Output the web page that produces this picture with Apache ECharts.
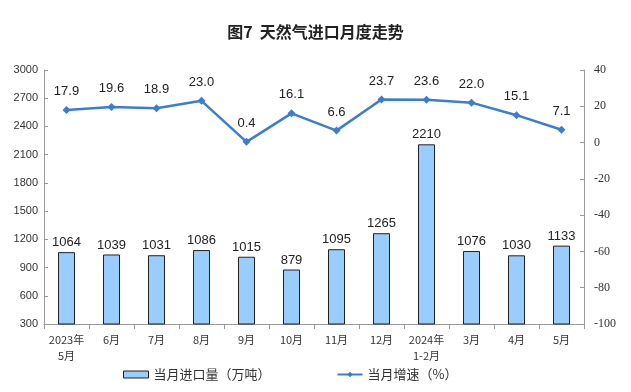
<!DOCTYPE html>
<html><head><meta charset="utf-8">
<script src="https://cdn.jsdelivr.net/npm/echarts@6/dist/echarts.min.js"></script>
<style>html,body{margin:0;padding:0;background:#fff}#c{width:631px;height:392px}</style>
</head><body><div id="c"></div>
<script>
const categories = ['2023年\n5月','6月','7月','8月','9月','10月','11月','12月','2024年\n1-2月','3月','4月','5月'];
const importVolume = [1064,1039,1031,1086,1015,879,1095,1265,2210,1076,1030,1133];
const growthRate = [17.9,19.6,18.9,23.0,0.4,16.1,6.6,23.7,23.6,22.0,15.1,7.1];
const chart = echarts.init(document.getElementById('c'));
const font = '"Noto Sans CJK SC", sans-serif';
chart.setOption({
  animation:false,
  title:{text:'图7  天然气进口月度走势',left:'center',top:19,textStyle:{fontFamily:font,fontSize:16,fontWeight:'bold',color:'#222'}},
  legend:{bottom:6,left:118,itemGap:66,textStyle:{fontFamily:font,fontSize:13,color:'#333'},
    data:[{name:'当月进口量（万吨）',icon:'rect',itemStyle:{color:'#99CCFF',borderColor:'#222',borderWidth:1}},{name:'当月增速（%）'}],
    itemWidth:25,itemHeight:7},
  grid:{left:44,right:47,top:70,bottom:68,containLabel:false},
  xAxis:{type:'category',data:categories,axisLine:{onZero:false,lineStyle:{color:'#999'}},axisTick:{show:true,interval:0,length:5,lineStyle:{color:'#999'}},
    axisLabel:{interval:0,fontFamily:font,fontSize:11,color:'#333',lineHeight:16,margin:8}},
  yAxis:[{type:'value',min:300,max:3000,interval:300,splitLine:{show:false},axisLine:{show:true,lineStyle:{color:'#999'}},axisTick:{show:true,inside:true,length:4,lineStyle:{color:'#999'}},
    axisLabel:{fontFamily:'"Liberation Sans", Arial',fontSize:11,color:'#333',margin:6,formatter:v=>String(v)}},
   {type:'value',min:-100,max:40,interval:20,splitLine:{show:false},axisLine:{show:true,lineStyle:{color:'#999'}},axisTick:{show:true,inside:true,length:4,lineStyle:{color:'#999'}},
    axisLabel:{fontFamily:'"Liberation Serif", serif',fontSize:12,color:'#333',margin:10,formatter:v=>String(v)}}],
  series:[{name:'当月进口量（万吨）',type:'bar',data:importVolume,barWidth:17,
    itemStyle:{color:'#99CCFF',borderColor:'#222',borderWidth:1},
    label:{show:true,position:'top',fontFamily:'"Liberation Sans", Arial',fontSize:13,color:'#222',distance:3}},
   {name:'当月增速（%）',type:'line',yAxisIndex:1,data:growthRate,symbol:'diamond',symbolSize:8,
    lineStyle:{color:'#3B7DD0',width:2.5},itemStyle:{color:'#3B7DD0'},
    label:{show:true,position:'top',distance:8,fontFamily:'"Liberation Sans", Arial',fontSize:13,color:'#222',formatter:p=>p.value.toFixed(1)}}]
});
</script></body></html>
